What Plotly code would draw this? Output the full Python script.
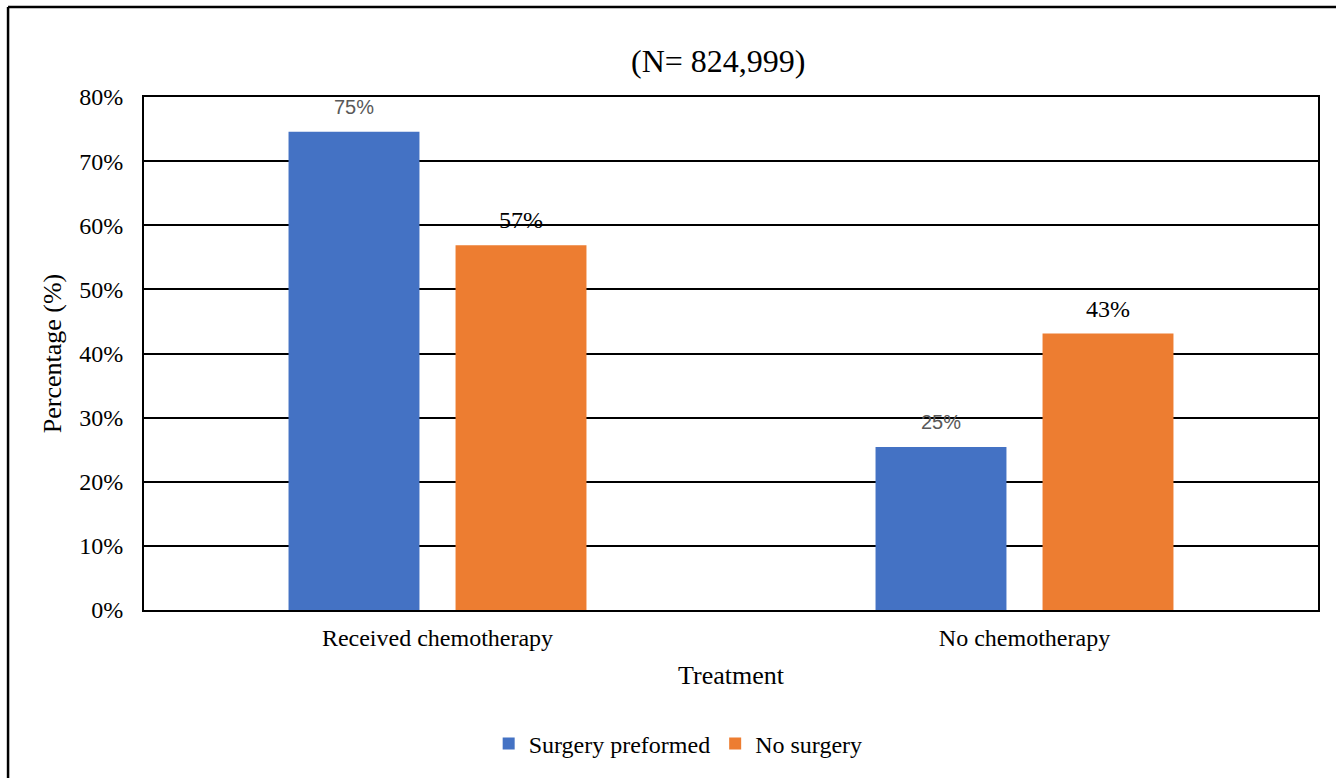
import plotly.graph_objects as go

# Treatment groups and share of patients in each surgery group (%)
categories = ["Received chemotherapy", "No chemotherapy"]
surgery_preformed = [74.6, 25.4]
no_surgery = [56.9, 43.1]
series_names = ["Surgery preformed", "No surgery"]
y_ticks = [0, 10, 20, 30, 40, 50, 60, 70, 80]

blue = "#4472C4"
orange = "#ED7D31"
serif = "Liberation Serif, Times New Roman, serif"
sans = "Liberation Sans, Arial, sans-serif"

fig = go.Figure()
fig.add_trace(go.Bar(x=categories, y=surgery_preformed, name=series_names[0],
                     marker=dict(color=blue, line=dict(width=0))))
fig.add_trace(go.Bar(x=categories, y=no_surgery, name=series_names[1],
                     marker=dict(color=orange, line=dict(width=0))))

# Value labels above each bar, positioned from the bar values
annotations = []
label_style = [
    dict(family=sans, size=20, color="#595959"),
    dict(family=serif, size=24, color="#000000"),
]
for trace_idx, vals in enumerate([surgery_preformed, no_surgery]):
    for cat_idx, v in enumerate(vals):
        annotations.append(dict(
            x=cat_idx, y=v, xref="x", yref="y",
            xshift=-83.5 if trace_idx == 0 else 83.5,
            yshift=25, text=f"{v:.0f}%", showarrow=False,
            font=label_style[trace_idx],
        ))

annotations.append(dict(
    x=0.489, y=1.0, xref="paper", yref="paper", yshift=36,
    text="(N= 824,999)", showarrow=False, yanchor="middle",
    font=dict(family=serif, size=32, color="#000000"),
))

# Outer frame around the figure
shapes = [
    dict(type="line", xref="paper", yref="paper", x0=-0.1158, x1=-0.1158,
         y0=-0.4, y1=1.1754, line=dict(color="black", width=2.5)),
    dict(type="line", xref="paper", yref="paper", x0=-0.1158, x1=1.1,
         y0=1.1754, y1=1.1754, line=dict(color="black", width=2.5)),
]

fig.update_layout(
    width=1336, height=778,
    margin=dict(l=144, r=18, t=97, b=168),
    paper_bgcolor="white", plot_bgcolor="white",
    barmode="group", bargap=0.431, bargroupgap=0.216,
    font=dict(family=serif, size=24, color="#000000"),
    annotations=annotations, shapes=shapes,
    legend=dict(orientation="h", x=0.455, xanchor="center", y=-0.261, yanchor="middle",
                font=dict(family=serif, size=24, color="#000000"),
                itemwidth=30, traceorder="normal"),
    xaxis=dict(
        showline=True, mirror=True, linecolor="black", linewidth=2,
        ticks="", showgrid=False, ticklabelstandoff=5,
        tickfont=dict(family=serif, size=24),
        title=dict(text="Treatment", font=dict(family=serif, size=26), standoff=16),
    ),
    yaxis=dict(
        range=[0, 80], tickvals=y_ticks, ticktext=[f"{t}%" for t in y_ticks],
        showline=True, mirror=True, linecolor="black", linewidth=2,
        showgrid=True, gridcolor="black", gridwidth=1.5,
        zeroline=False, ticks="", ticklabelstandoff=14,
        tickfont=dict(family=serif, size=24),
        title=dict(text="Percentage (%)", font=dict(family=serif, size=26), standoff=10),
    ),
)

fig.write_html("out.html")
